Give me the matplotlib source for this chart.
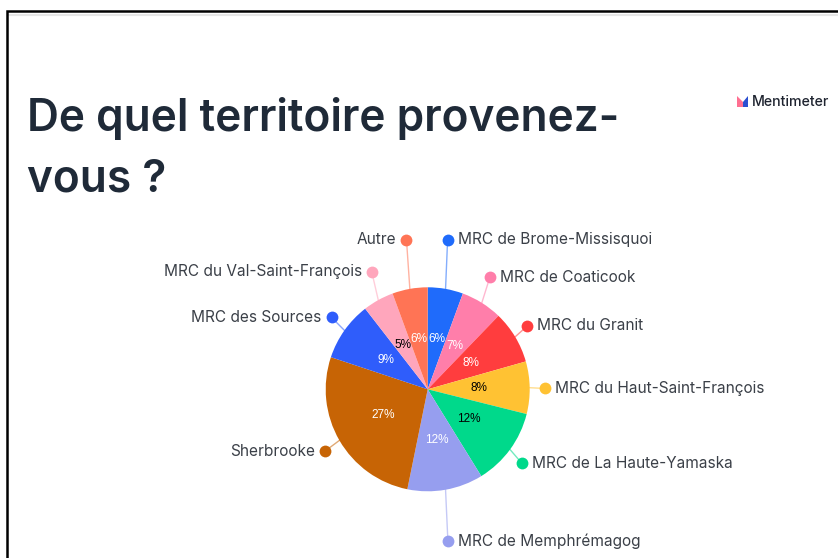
import numpy as np
import matplotlib
matplotlib.use('Agg')
import matplotlib.pyplot as plt
from matplotlib.patches import Polygon, Rectangle

title_lines = ['De quel territoire provenez-', 'vous ?']
territoires = ['MRC de Brome-Missisquoi', 'MRC de Coaticook', 'MRC du Granit',
               'MRC du Haut-Saint-François', 'MRC de La Haute-Yamaska',
               'MRC de Memphrémagog', 'Sherbrooke', 'MRC des Sources',
               'MRC du Val-Saint-François', 'Autre']
valeurs = [5.6, 6.6, 8.4, 8.3, 12.3, 12.0, 26.9, 9.4, 4.9, 5.6]
couleurs = ['#1f6bfb', '#ff7eaa', '#ff3d3e', '#ffc233', '#00d98b',
            '#969eef', '#c76405', '#2f5dfb', '#ffa6bc', '#ff7455']
pct_couleurs = ['white', 'white', 'white', 'black', 'black',
                'white', 'white', 'white', 'black', 'white']

# leader layout: how far the dot sits from the centre, and angle nudge
dot_dist = [151, 128, 118, 117, 120, 153, 120, 120, 130, 151]
dot_nudge = [-2.5, -3, -1.5, 0.5, 2, 2.5, -1, 1.5, 3.5, 2]

W, H = 838, 558
cx, cy, rayon = 427.7, H - 389.3, 102

fig = plt.figure(figsize=(W / 100, H / 100), dpi=100)
ax = fig.add_axes([0, 0, 1, 1])

wedges, _, pcts = ax.pie(valeurs, colors=couleurs, startangle=90, counterclock=False,
                         center=(cx, cy), radius=rayon, autopct='%.0f%%', pctdistance=0.5,
                         textprops={'family': 'Liberation Sans', 'fontsize': 8.5})
for t, c in zip(pcts, pct_couleurs):
    t.set_color(c)

ax.set_xlim(0, W)
ax.set_ylim(0, H)
ax.set_aspect('equal')
ax.axis('off')

# dots, leaders and names
for w, nom, coul, d, nudge in zip(wedges, territoires, couleurs, dot_dist, dot_nudge):
    mid = np.deg2rad((w.theta1 + w.theta2) / 2)
    a = mid - np.deg2rad(nudge)
    px, py = cx + d * np.cos(a), cy + d * np.sin(a)
    ex, ey = cx + rayon * np.cos(mid), cy + rayon * np.sin(mid)
    ax.plot([ex, px], [ey, py], color=coul, lw=1, alpha=0.55, zorder=1)
    ax.plot(px, py, 'o', color=coul, ms=8.5, mec='none', zorder=3)
    if np.cos(a) >= 0:
        ax.text(px + 10, py, nom, ha='left', va='center', family='Inter',
                fontsize=11.1, color='#3b4048')
    else:
        ax.text(px - 10, py, nom, ha='right', va='center', family='Inter',
                fontsize=11.1, color='#3b4048')

# title
ax.text(27, H - 118, title_lines[0], family='Inter', weight='semibold', fontsize=31.8,
        color='#1f2a38', va='center', ha='left')
ax.text(27, H - 179, title_lines[1], family='Inter', weight='semibold', fontsize=31.8,
        color='#1f2a38', va='center', ha='left')

# Mentimeter logo
ax.add_patch(Polygon([(737, H - 107), (737, H - 96), (743, H - 102), (743, H - 107)], color='#ff6f91', lw=0))
ax.add_patch(Polygon([(743, H - 107), (743, H - 102), (748, H - 96), (748, H - 107)], color='#2a4fd0', lw=0))
ax.text(752, H - 101.5, 'Mentimeter', family='Inter', weight='medium', fontsize=10.2,
        color='#1f2430', va='center', ha='left')

# screenshot frame
ax.add_patch(Rectangle((7, -5), W + 10, H + 5 - 10.5, fill=False, ec='black', lw=1.8, zorder=5))
ax.plot([8, W], [H - 14.5, H - 14.5], color='#e6e6e6', lw=1.5, zorder=4)

fig.savefig('out.png', dpi=100)
